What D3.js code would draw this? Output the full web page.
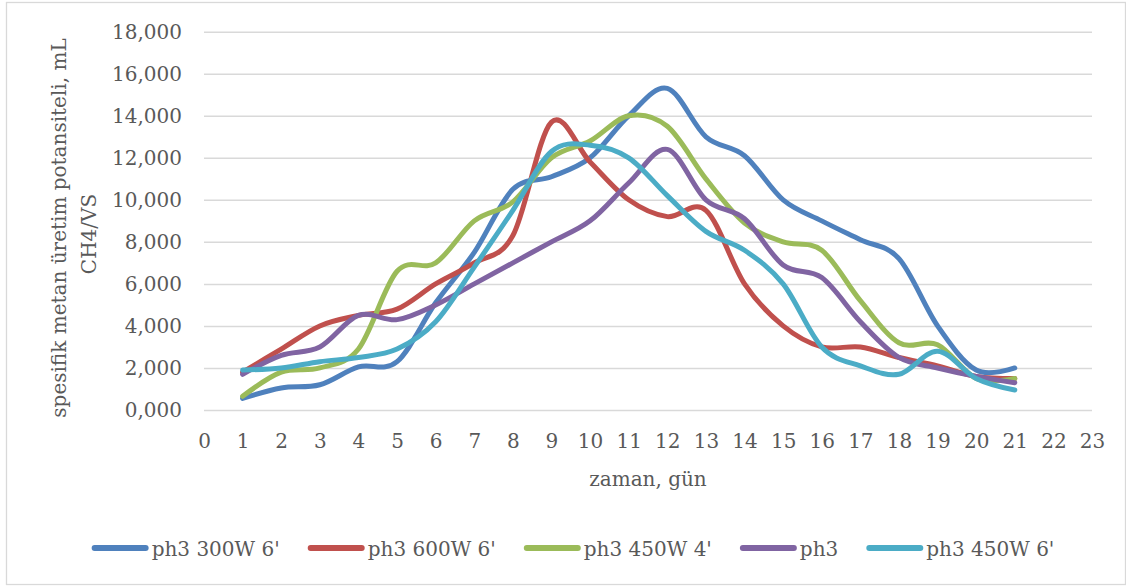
<!DOCTYPE html>
<html>
<head>
<meta charset="utf-8">
<script src="https://cdn.jsdelivr.net/npm/d3@7"></script>
<style>
  body { margin: 0; background: #fff; }
  svg text { font-family: "DejaVu Serif", serif; fill: #595959; }
</style>
</head>
<body>
<svg id="chart" width="1126" height="586"></svg>
<script>
// days (x values)
var days = [1,2,3,4,5,6,7,8,9,10,11,12,13,14,15,16,17,18,19,20,21];

// series values, mL CH4/VS
var ph3_300W_6 = [0.55,1.05,1.2,2.05,2.3,5.1,7.5,10.5,11.1,12.0,14.0,15.3,13.0,12.1,10.0,9.0,8.1,7.2,4.0,1.9,2.0];
var ph3_600W_6 = [1.8,2.9,4.0,4.5,4.8,6.0,7.0,8.3,13.7,11.8,10.0,9.2,9.5,6.0,4.0,3.0,3.0,2.5,2.1,1.6,1.5];
var ph3_450W_4 = [0.65,1.8,2.0,2.9,6.6,7.0,9.0,9.9,12.0,12.8,14.0,13.5,11.0,8.9,8.0,7.6,5.2,3.2,3.1,1.5,1.5];
var ph3        = [1.7,2.6,3.0,4.5,4.3,5.0,6.0,7.0,8.0,9.0,10.8,12.4,10.0,9.1,6.9,6.3,4.2,2.5,2.0,1.6,1.3];
var ph3_450W_6 = [1.9,2.0,2.3,2.5,2.9,4.2,6.8,9.5,12.3,12.6,12.0,10.2,8.5,7.6,6.0,3.0,2.1,1.7,2.8,1.5,0.95];

var seriesNames = ["ph3 300W 6'", "ph3 600W 6'", "ph3 450W 4'", "ph3", "ph3 450W 6'"];
var seriesColors = ["#4F81BD", "#C0504D", "#9BBB59", "#8064A2", "#4BACC6"];

// axis ticks
var xTicks = [0,1,2,3,4,5,6,7,8,9,10,11,12,13,14,15,16,17,18,19,20,21,22,23];
var yTicks = [0,2,4,6,8,10,12,14,16,18];

var allSeries = [ph3_300W_6, ph3_600W_6, ph3_450W_4, ph3, ph3_450W_6];

var svg = d3.select("#chart");
var plotLeft = 204, plotRight = 1092, plotTop = 31.7, plotBottom = 410;

// chart border
svg.append("rect")
  .attr("x", 6.5).attr("y", 2.5)
  .attr("width", 1119).attr("height", 582)
  .attr("fill", "#fff")
  .attr("stroke", "#d9d9d9")
  .attr("stroke-width", 1.3);

var x = d3.scaleLinear().domain([0, 23]).range([plotLeft, plotRight]);
var y = d3.scaleLinear().domain([0, 18]).range([plotBottom, plotTop]);

// turkish style numbers: 18,000
var tr = d3.formatLocale({decimal: ",", thousands: ".", grouping: [3], currency: ["", " TL"]});
var fmt = tr.format(".3f");

// y axis + gridlines
var yAxis = svg.append("g")
  .attr("transform", "translate(" + plotLeft + ",0)")
  .call(d3.axisLeft(y).tickValues(yTicks).tickFormat(fmt)
        .tickSize(-(plotRight - plotLeft)).tickPadding(22));
yAxis.select(".domain").remove();
yAxis.selectAll("line").attr("stroke", "#d9d9d9").attr("stroke-width", 1.5);
yAxis.selectAll("text").attr("font-size", "20px").attr("font-family", "DejaVu Serif");

// x axis labels only
var xAxis = svg.append("g")
  .attr("transform", "translate(0," + plotBottom + ")")
  .call(d3.axisBottom(x).tickValues(xTicks).tickSize(0).tickPadding(24));
xAxis.select(".domain").remove();
xAxis.selectAll("text").attr("font-size", "20px").attr("font-family", "DejaVu Serif");

// axis titles
svg.append("text")
  .attr("x", 648).attr("y", 486)
  .attr("text-anchor", "middle")
  .attr("font-size", "20px")
  .text("zaman, gün");

svg.append("text")
  .attr("transform", "translate(66,228) rotate(-90)")
  .attr("text-anchor", "middle")
  .attr("font-size", "20px")
  .text("spesifik metan üretim potansiteli, mL");
svg.append("text")
  .attr("transform", "translate(96,234) rotate(-90)")
  .attr("text-anchor", "middle")
  .attr("font-size", "20px")
  .text("CH4/VS");

// smoothed lines
var line = d3.line()
  .x(function(d, i) { return x(days[i]); })
  .y(function(d) { return y(d); })
  .curve(d3.curveCatmullRom.alpha(0));

svg.selectAll(".series")
  .data(allSeries)
  .enter().append("path")
  .attr("class", "series")
  .attr("d", line)
  .attr("fill", "none")
  .attr("stroke", function(d, i) { return seriesColors[i]; })
  .attr("stroke-width", 5)
  .attr("stroke-linecap", "round")
  .attr("stroke-linejoin", "round");

// legend
var legend = svg.append("g");
var items = legend.selectAll(".item")
  .data(seriesNames)
  .enter().append("g")
  .attr("class", "item");
items.append("line")
  .attr("x1", 3).attr("x2", 54)
  .attr("y1", 548).attr("y2", 548)
  .attr("stroke", function(d, i) { return seriesColors[i]; })
  .attr("stroke-width", 6)
  .attr("stroke-linecap", "round");
items.append("text")
  .attr("x", 60).attr("y", 556)
  .attr("font-size", "20px")
  .text(function(d) { return d; });

var pos = 0, offsets = [];
items.each(function() {
  offsets.push(pos);
  pos += 60 + this.querySelector("text").getComputedTextLength() + 28;
});
var total = pos - 28;
var start = 573 - total / 2;
items.attr("transform", function(d, i) { return "translate(" + (start + offsets[i]) + ",0)"; });
</script>
</body>
</html>
